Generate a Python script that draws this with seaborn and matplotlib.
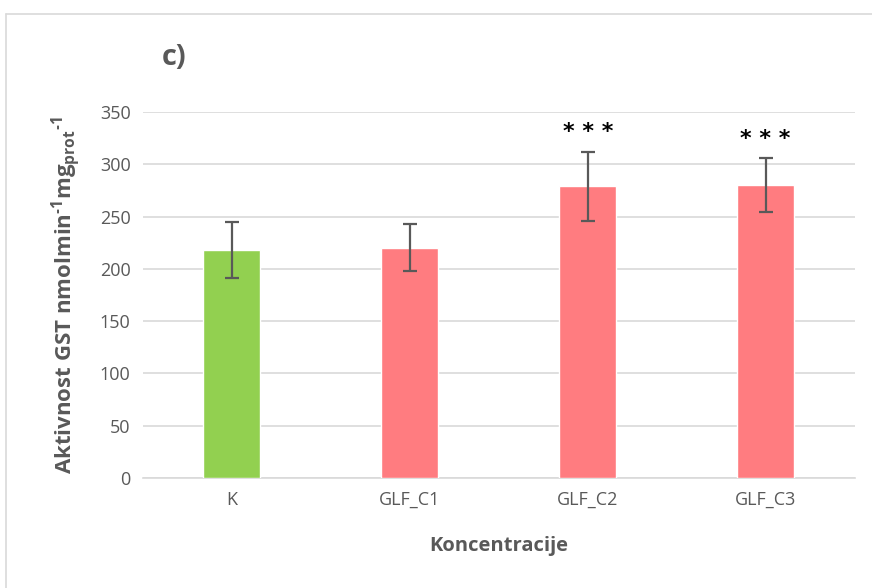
import numpy as np
import pandas as pd
import matplotlib
matplotlib.use("Agg")
import matplotlib.pyplot as plt
from matplotlib.lines import Line2D
import seaborn as sns

# podaci
koncentracije = ['K', 'GLF_C1', 'GLF_C2', 'GLF_C3']
aktivnost = [218, 220, 279, 280]
sd = [26.5, 22.5, 33, 26]
oznake = ['', '', '***', '***']
boje = ['#92D050', '#FF7C80', '#FF7C80', '#FF7C80']

sns.set_theme(style='white')
plt.rcParams['font.family'] = ['Open Sans', 'DejaVu Sans']
plt.rcParams['mathtext.fontset'] = 'custom'
plt.rcParams['mathtext.rm'] = 'Open Sans'
plt.rcParams['mathtext.bf'] = 'Open Sans:bold'
txt = '#595959'

df = pd.DataFrame({'konc': koncentracije, 'akt': aktivnost})

fig = plt.figure(figsize=(8.72, 5.88), dpi=100)
ax = fig.add_axes([0.164, 0.187, 0.816, 0.6225])

sns.barplot(data=df, x='konc', y='akt', hue='konc', palette=boje, saturation=1,
            legend=False, width=0.32, ax=ax, errorbar=None, zorder=3)

ax.errorbar(np.arange(len(aktivnost)), aktivnost, yerr=sd, fmt='none',
            ecolor=txt, elinewidth=1.6, capsize=5, capthick=1.6, zorder=4)

for i, (m, s, o) in enumerate(zip(aktivnost, sd, oznake)):
    if o:
        ax.text(i, m + s + 9, ' '.join(o), ha='center', va='bottom', fontsize=16,
                fontweight='bold', color='black', family=['DejaVu Sans'])

ax.set_ylim(0, 350)
ax.set_yticks(range(0, 351, 50))
ax.set_xlim(-0.5, 3.5)
ax.yaxis.grid(True, color='#D9D9D9', lw=1.2, zorder=0)
ax.set_axisbelow(True)
for sp in ['top', 'right', 'left']:
    ax.spines[sp].set_visible(False)
ax.spines['bottom'].set_color('#D9D9D9')
ax.spines['bottom'].set_linewidth(1.2)
ax.tick_params(axis='both', colors=txt, labelsize=13, length=0, pad=9)

ax.set_xlabel('Koncentracije', fontsize=14.5, fontweight='bold', color=txt, labelpad=20)
ax.set_ylabel('Aktivnost GST nmolmin$^{\\mathbf{\u2010 1}}$mg$_{\\mathbf{prot}}$$^{\\mathbf{\u2010 1}}$',
              fontsize=16, fontweight='bold', color=txt, labelpad=12)

fig.text(0.186, 0.902, 'c)', fontsize=21, fontweight='bold', color=txt,
         ha='left', va='center')

# okvir
fig.add_artist(Line2D([5.5 / 872, 5.5 / 872], [0, 1 - 13.5 / 588],
                      transform=fig.transFigure, color='#D9D9D9', lw=1.2))
fig.add_artist(Line2D([5.5 / 872, 1], [1 - 13.5 / 588, 1 - 13.5 / 588],
                      transform=fig.transFigure, color='#D9D9D9', lw=1.2))

fig.savefig('out.png', dpi=100)
